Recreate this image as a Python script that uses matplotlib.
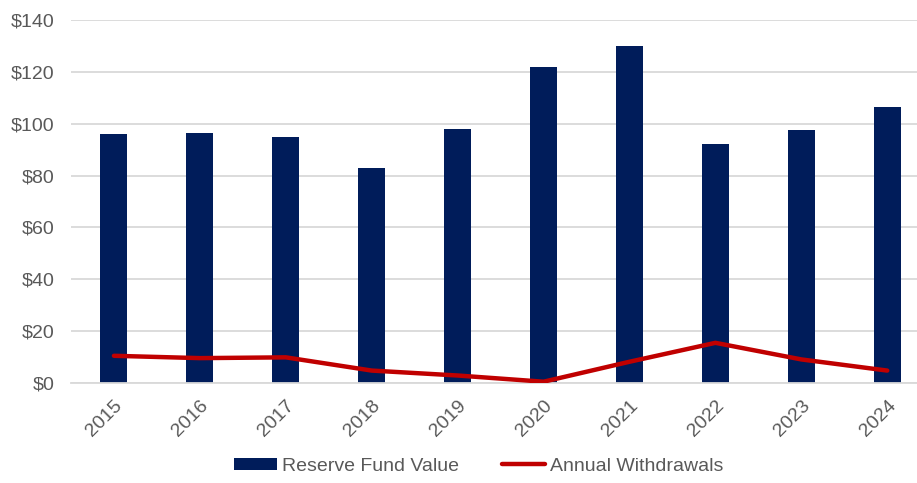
import matplotlib.pyplot as plt
from matplotlib.ticker import FuncFormatter

years = ['2015', '2016', '2017', '2018', '2019', '2020', '2021', '2022', '2023', '2024']
reserve_fund = [96, 96.3, 95, 83, 98, 122, 130, 92, 97.4, 106.3]
withdrawals = [10.5, 9.6, 9.9, 4.8, 2.9, 0.5, 8.2, 15.5, 9.1, 4.8]

navy = '#001C5A'
red = '#C00000'
grey = '#595959'

plt.rcParams['font.family'] = ['Liberation Sans', 'DejaVu Sans']

fig = plt.figure(figsize=(9.17, 4.83), dpi=100)
ax = fig.add_axes([0.0774, 0.207, 0.937, 0.7516])

x = list(range(len(years)))
bars = ax.bar(x, reserve_fund, width=0.315, color=navy, label='Reserve Fund Value', zorder=2)
line, = ax.plot(x, withdrawals, color=red, linewidth=3.2, solid_joinstyle='round',
                solid_capstyle='round', label='Annual Withdrawals', zorder=3)

ax.set_xlim(-0.5, len(years) - 0.5)
ax.set_ylim(0, 140)
ax.set_yticks(range(0, 141, 20))
ax.yaxis.set_major_formatter(FuncFormatter(lambda v, p: '${:.0f}'.format(v)))
ax.set_xticks(x)
ax.set_xticklabels(years, rotation=45, ha='right', rotation_mode='anchor')

ax.grid(axis='y', color='#D9D9D9', linewidth=1.3, zorder=0)
ax.set_axisbelow(True)
for s in ['top', 'right', 'left']:
    ax.spines[s].set_visible(False)
ax.spines['bottom'].set_color('#D9D9D9')
ax.spines['bottom'].set_linewidth(1.3)
ax.tick_params(axis='both', length=0, labelsize=14, labelcolor=grey)
ax.tick_params(axis='y', pad=12)
ax.tick_params(axis='x', pad=10)

fig.legend([bars, line], ['Reserve Fund Value', 'Annual Withdrawals'], loc='center',
           bbox_to_anchor=(0.522, 0.035), ncol=2, frameon=False, fontsize=14,
           labelcolor=grey, handlelength=2.2, handleheight=0.55, handletextpad=0.25,
           columnspacing=2.2)

fig.savefig('out.png', dpi=100)
